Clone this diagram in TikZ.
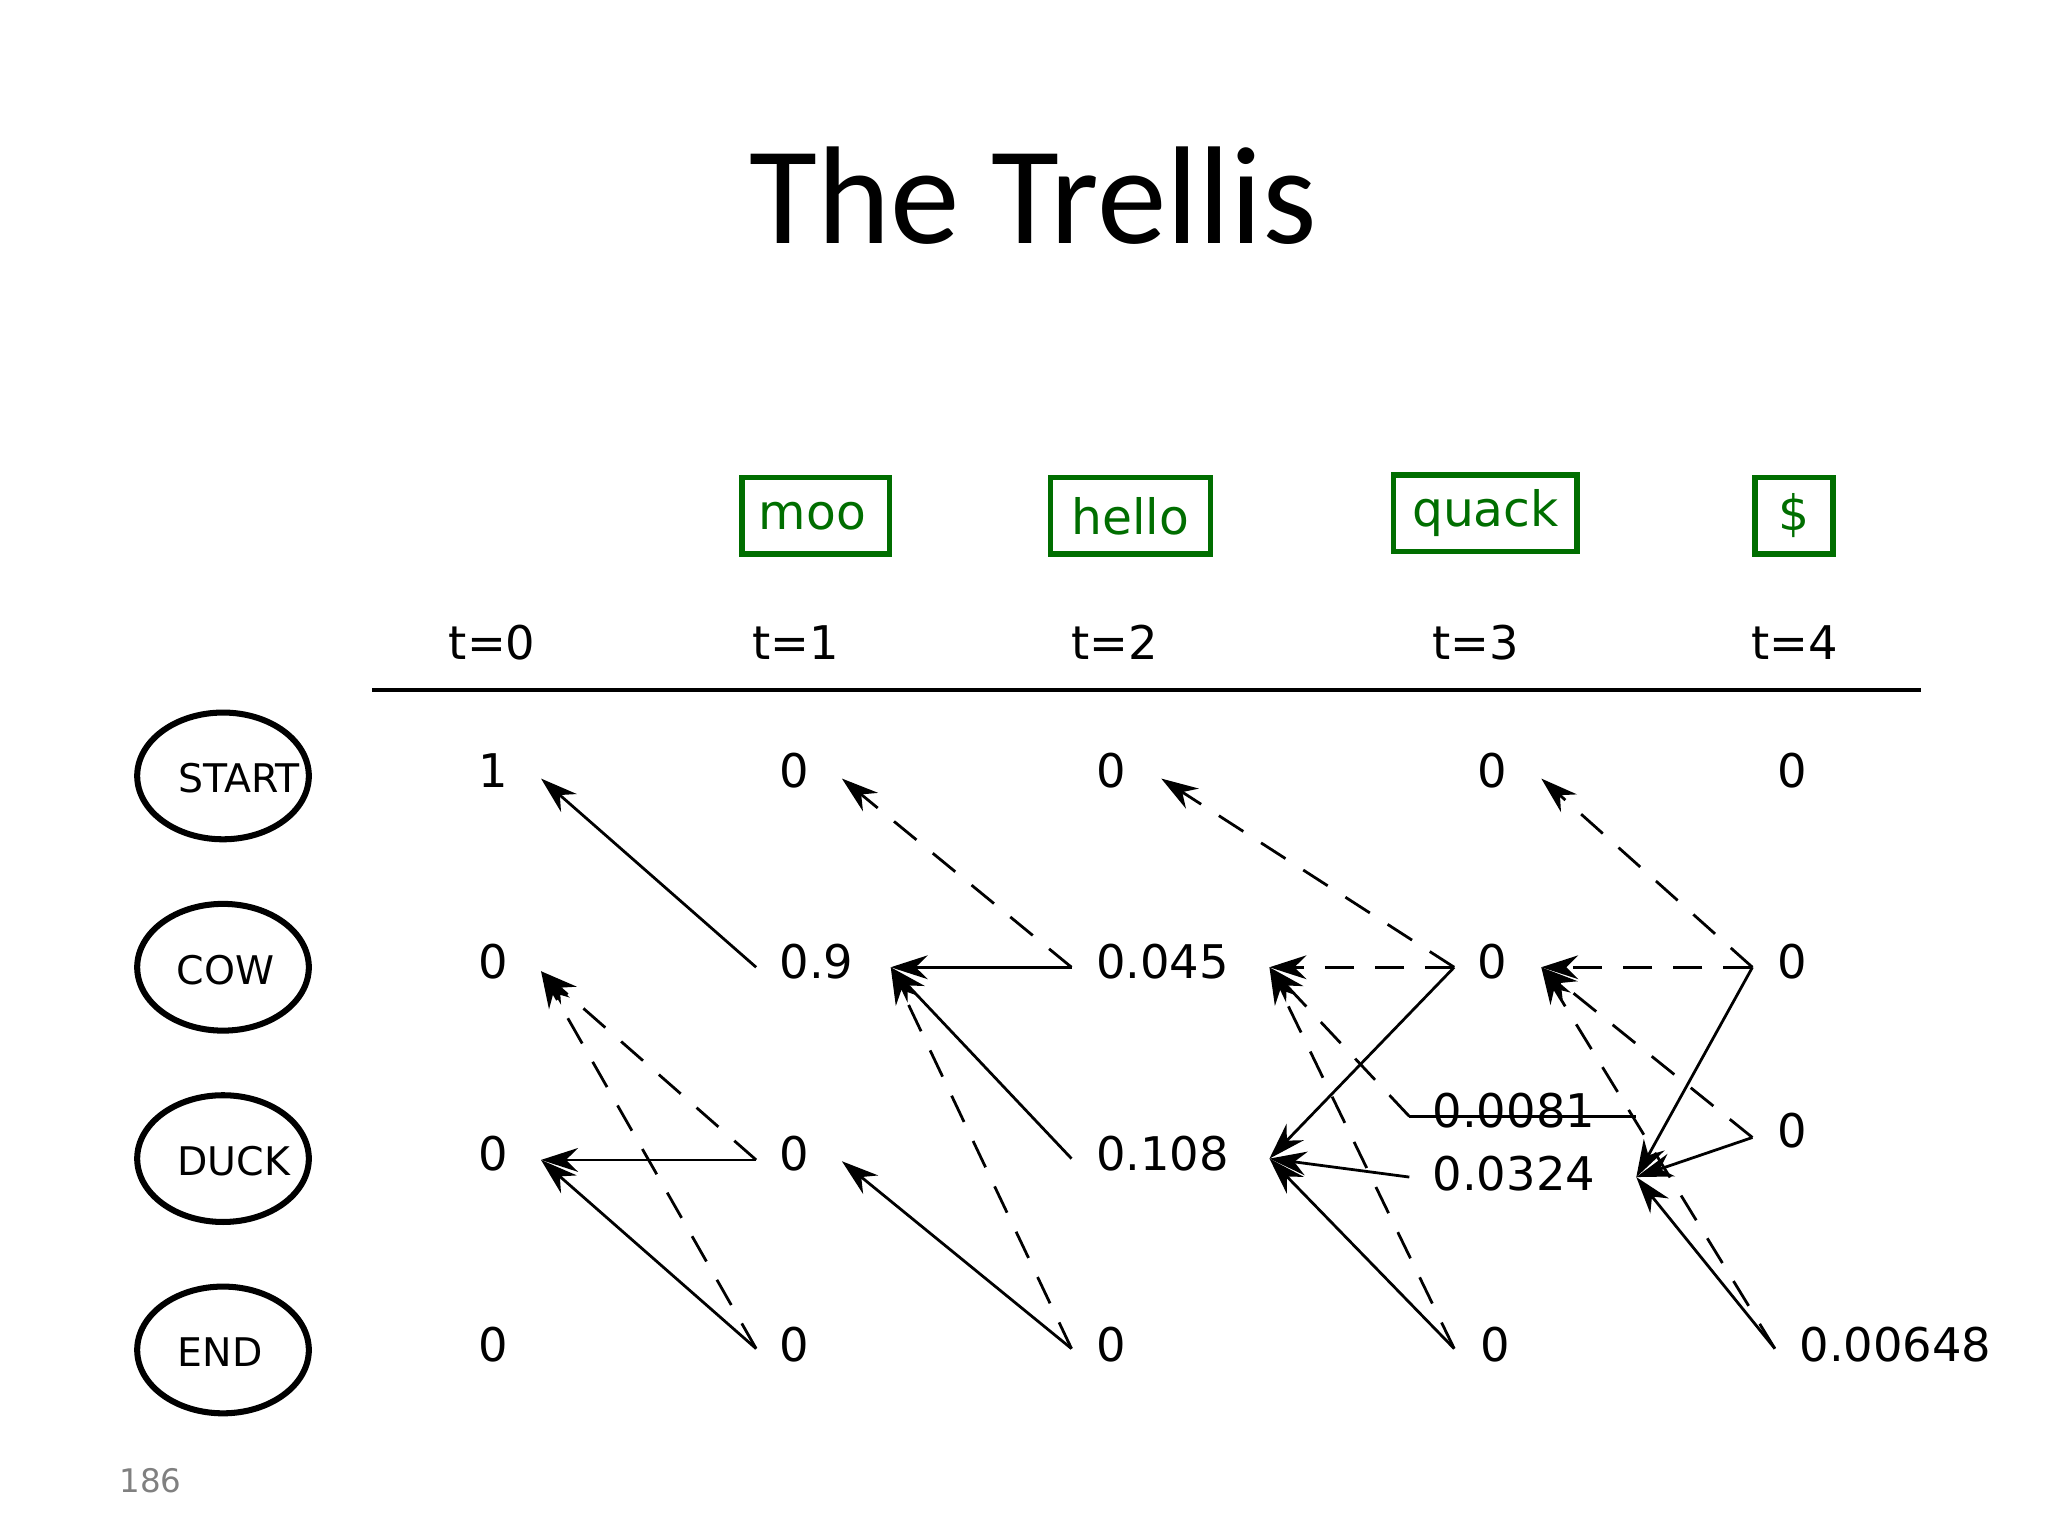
\documentclass[tikz,border=0pt]{standalone}
\usepackage{fontspec}
\setmainfont{DejaVu Sans}
\newfontfamily\titlefont{Carlito}
\usetikzlibrary{arrows.meta,shapes.geometric}
\definecolor{boxgreen}{RGB}{0,110,0}
\begin{document}
\begin{tikzpicture}[x=0.01cm,y=-0.01cm,
  val/.style={anchor=west,font=\fontsize{10}{12}\selectfont,inner sep=0pt},
  hdr/.style={font=\fontsize{10}{12}\selectfont,inner sep=0pt},
  st/.style={draw,line width=1.3pt,ellipse,inner sep=0pt,minimum width=1.3cm,minimum height=0.96cm},
  stl/.style={font=\fontsize{8.5}{10}\selectfont,inner sep=0pt},
  gbox/.style={draw=boxgreen,line width=1.2pt,text=boxgreen,font=\fontsize{10.5}{12}\selectfont,anchor=west,inner sep=0pt,minimum height=0.58cm},
  arr/.style={-{Stealth[length=2.8mm,width=1.8mm]},line width=0.6pt},
  darr/.style={arr,dash pattern=on 2.2mm off 1.6mm}]
\useasboundingbox (0,0) rectangle (1552,1164);
\node[font=\titlefont\fontsize{30}{36}\selectfont] (title) at (783,148) {The Trellis};
\node[font=\fontsize{7}{9}\selectfont,text=gray] (pg) at (114,1122) {186};
% green boxes
\node[gbox,minimum width=1.12cm] (b1) at (560,391) {\hspace*{-0.05cm}moo};
\node[gbox,minimum width=1.21cm] (b2) at (794,391) {hello};
\node[gbox,minimum width=1.39cm] (b3) at (1054,389) {quack};
\node[gbox,minimum width=0.59cm] (b4) at (1328,391) {\$};
% headers
\node[hdr] (h0) at (373,487) {t=0};
\node[hdr] (h1) at (603,487) {t=1};
\node[hdr] (h2) at (845,487) {t=2};
\node[hdr] (h3) at (1118,487) {t=3};
\node[hdr] (h4) at (1360,487) {t=4};
\coordinate (la) at (282,523); \coordinate (lb) at (1456,523);
\draw[line width=0.9pt] (la) -- (lb);
% states
\node[st] (sS) at (169,588) {};
\node[st] (sC) at (169,733) {};
\node[st] (sD) at (169,878) {};
\node[st] (sE) at (169,1023) {};
\node[stl] (tS) at (181,590) {START};
\node[stl] (tC) at (171,735) {COW};
\node[stl] (tD) at (177,880) {DUCK};
\node[stl] (tE) at (167,1025) {END};
% values
\node[val] at (362,584) {1};
\node[val] at (362,729) {0};
\node[val] at (362,874) {0};
\node[val] at (362,1019) {0};
\node[val] at (590,584) {0};
\node[val] at (590,729) {0.9};
\node[val] at (590,874) {0};
\node[val] at (590,1019) {0};
\node[val] at (830,584) {0};
\node[val] at (830,729) {0.045};
\node[val] at (830,874) {0.108};
\node[val] at (830,1019) {0};
\node[val] at (1119,584) {0};
\node[val] at (1119,729) {0};
\node[val] at (1121,1019) {0};
\node[val] at (1085,842) {0.0081};
\node[val] at (1085,889) {0.0324};
\node[val] at (1346,584) {0};
\node[val] at (1346,729) {0};
\node[val] at (1346,857) {0};
\node[val] at (1363,1019) {0.00648};
% anchor coordinates
\coordinate (a0S) at (410,590); \coordinate (a0C) at (410,736); \coordinate (a0D) at (410,879);
\coordinate (a1S) at (638,590); \coordinate (a1C) at (675,733); \coordinate (a1D) at (638,880);
\coordinate (a2S) at (880,590); \coordinate (a2C) at (962,733); \coordinate (a2D) at (962,878);
\coordinate (a3S) at (1168,590); \coordinate (a3C) at (1168,733); \coordinate (a3D) at (1240,892);
\coordinate (f1C) at (573,733); \coordinate (f1D) at (573,879); \coordinate (f1E) at (573,1022);
\coordinate (f2C) at (812,733); \coordinate (f2D) at (812,878); \coordinate (f2E) at (812,1022);
\coordinate (f3C) at (1102,733); \coordinate (f3D1) at (1068,846); \coordinate (f3D2) at (1068,892); \coordinate (f3E) at (1102,1022);
\coordinate (g3) at (1240,846);
\coordinate (f4S) at (1328,733); \coordinate (f4D) at (1328,862); \coordinate (f4E) at (1345,1022);
% arrows
\draw[arr] (f1C) -- (a0S);
\draw[darr] (f1D) -- (a0C);
\draw[darr] (f1E) -- (a0C);
\draw[arr] (f1D) -- (a0D);
\draw[arr] (f1E) -- (a0D);
\draw[darr] (f2C) -- (a1S);
\draw[arr] (f2C) -- (a1C);
\draw[arr] (f2D) -- (a1C);
\draw[darr] (f2E) -- (a1C);
\draw[arr] (f2E) -- (a1D);
\draw[darr] (f3C) -- (a2S);
\draw[darr] (f3C) -- (a2C);
\draw[darr] (f3D1) -- (a2C);
\draw[darr] (f3E) -- (a2C);
\draw[line width=0.6pt] (f3D1) -- (g3);
\draw[arr] (f3C) -- (a2D);
\draw[arr] (f3D2) -- (a2D);
\draw[arr] (f3E) -- (a2D);
\draw[darr] (f4S) -- (a3S);
\draw[darr] (f4S) -- (a3C);
\draw[darr] (f4D) -- (a3C);
\draw[darr] (f4E) -- (a3C);
\draw[arr] (f4S) -- (a3D);
\draw[arr] (f4D) -- (a3D);
\draw[arr] (f4E) -- (a3D);
\end{tikzpicture}
\end{document}
